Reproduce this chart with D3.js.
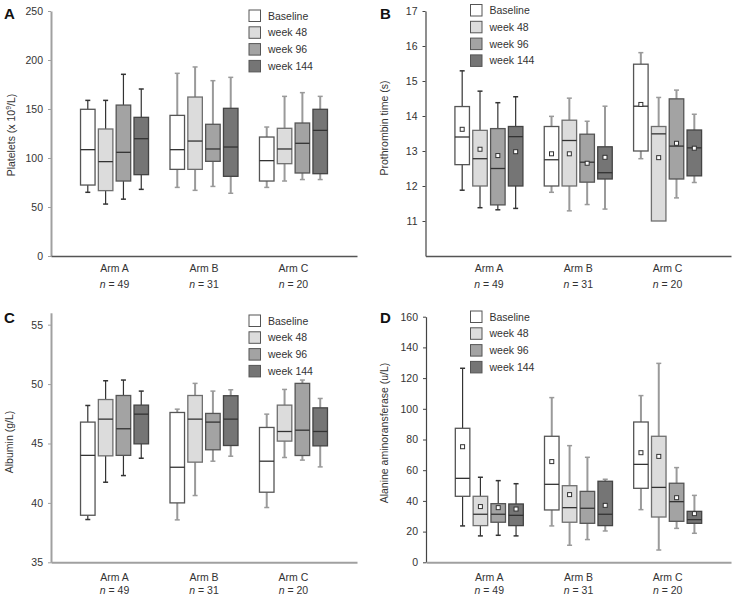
<!DOCTYPE html>
<html><head><meta charset="utf-8">
<script src="https://cdn.jsdelivr.net/npm/d3@7"></script>
<style>
body{margin:0;background:#fff}
svg{display:block}
text{font-family:'Liberation Sans',Arial,sans-serif;fill:#333}
</style>
</head><body>
<svg id="chart" width="738" height="597"></svg>
<script>
// ---------- data ----------
const arms = ["Arm A", "Arm B", "Arm C"];
const armN = [49, 31, 20];
const seriesNames = ["Baseline", "week 48", "week 96", "week 144"];
const seriesFill = ["#ffffff", "#dcdcdc", "#a3a3a3", "#757575"];

// order: Arm A (Baseline, wk48, wk96, wk144), Arm B (...), Arm C (...)
const plateletsMin = [65, 53, 58, 68, 70, 67, 71, 64, 70, 76.5, 78, 78];
const plateletsQ1  = [72.4, 66.7, 76.5, 83, 88.4, 88.4, 96.6, 81.3, 76.5, 94.2, 84.7, 84];
const plateletsMed = [108.5, 96.3, 105.8, 119.7, 108.5, 117.3, 109.2, 111.2, 97.3, 109.2, 115, 128.2];
const plateletsQ3  = [149.7, 129.6, 154, 141.5, 143.5, 162.2, 134.4, 150.7, 121.4, 130.3, 135.7, 149.7];
const plateletsMax = [158.8, 158.8, 185.4, 170.4, 186.4, 192.9, 178.9, 182.3, 131.6, 162.9, 166.7, 162.9];
const plateletsTicks = [0, 50, 100, 150, 200, 250];

const ptMin  = [11.88, 11.38, 11.32, 11.36, 11.82, 11.29, 11.47, 11.34, 12.78, 11.04, 11.66, 12.10];
const ptQ1   = [12.61, 12.0, 11.46, 12.0, 12.0, 12.0, 12.11, 12.20, 13.0, 11.0, 12.20, 12.29];
const ptMed  = [13.40, 12.78, 12.5, 13.41, 12.75, 13.30, 12.68, 12.38, 14.28, 13.49, 13.14, 13.09];
const ptQ3   = [14.27, 13.59, 13.64, 13.70, 13.70, 13.88, 13.48, 13.12, 15.48, 13.70, 14.49, 13.60];
const ptMax  = [15.29, 14.71, 14.38, 14.55, 13.99, 14.51, 13.85, 14.28, 15.81, 14.53, 14.74, 14.05];
const ptMean = [13.62, 13.05, 12.87, 12.98, 12.92, 12.92, 12.65, 12.82, 14.33, 12.81, 13.22, 13.08];
const ptTicks = [11, 12, 13, 14, 15, 16, 17];

const albMin = [38.6, 41.74, 42.3, 43.76, 38.57, 40.62, 43.51, 43.93, 39.61, 43.82, 43.6, 43.03];
const albQ1  = [38.96, 43.96, 44.0, 44.97, 40.0, 43.43, 44.47, 44.83, 40.9, 45.2, 43.99, 44.8];
const albMed = [44.0, 47.05, 46.24, 47.47, 43.0, 47.05, 46.8, 47.05, 43.51, 46.01, 46.12, 46.01];
const albQ3  = [46.8, 48.7, 49.04, 48.23, 47.61, 49.04, 47.53, 49.02, 46.35, 48.23, 50.06, 48.0];
const albMax = [48.2, 50.28, 50.34, 49.41, 47.89, 50.06, 49.41, 49.52, 47.47, 49.55, 50.34, 48.79];
const albTicks = [35, 40, 45, 50, 55];

const altMin  = [23.7, 17.2, 17.6, 17.2, 23.7, 11.1, 14.8, 20.4, 34.3, 8.0, 22.1, 18.9];
const altQ1   = [43.0, 23.9, 26.1, 23.9, 34.1, 26.1, 25.4, 23.9, 48.2, 29.5, 26.7, 25.4];
const altMed  = [54.7, 31.3, 31.3, 30.6, 50.8, 35.6, 35.2, 31.3, 63.8, 48.8, 39.5, 27.8];
const altQ3   = [87.3, 43.0, 38.2, 38.0, 82.1, 49.9, 46.2, 52.8, 91.4, 82.1, 51.5, 33.2];
const altMax  = [126.4, 55.4, 53.2, 51.2, 107.3, 76.0, 68.4, 54.1, 108.6, 129.6, 61.7, 43.6];
const altMean = [75.3, 36.3, 35.6, 34.7, 65.6, 44.1, null, 37.1, 71.4, 69.0, 42.1, 31.7];
const altTicks = [0, 20, 40, 60, 80, 100, 120, 140, 160];

// ---------- layout ----------
const svg = d3.select("#chart");

const panels = [
  {letter: "A", lx: 4, ly: 19, title: ["Platelets (x 10", "9", "/L)"], tx: 15, ty: 135,
   left: 51, right: 357, top: 11, bottom: 256, domain: [0, 250], ticks: plateletsTicks,
   min: plateletsMin, q1: plateletsQ1, med: plateletsMed, q3: plateletsQ3, max: plateletsMax, mean: null,
   yAxisColor: "#a0a0a0", yAxisW: 2, xAxisColor: "#555", xAxisW: 1.3, lab1: 272, lab2: 288,
   legX: 249, legY: 10},
  {letter: "B", lx: 380, ly: 19, title: ["Prothrombin time (s)"], tx: 388, ty: 128,
   left: 425.5, right: 731, top: 11, bottom: 256, domain: [10, 17], ticks: ptTicks,
   min: ptMin, q1: ptQ1, med: ptMed, q3: ptQ3, max: ptMax, mean: ptMean,
   yAxisColor: "#444", yAxisW: 1.2, xAxisColor: "#555", xAxisW: 1.3, lab1: 272, lab2: 288,
   legX: 470.5, legY: 4.5},
  {letter: "C", lx: 4, ly: 323, title: ["Albumin (g/L)"], tx: 13, ty: 442,
   left: 51, right: 357, top: 312.8, bottom: 562.3, domain: [35, 56], ticks: albTicks,
   min: albMin, q1: albQ1, med: albMed, q3: albQ3, max: albMax, mean: null,
   yAxisColor: "#a0a0a0", yAxisW: 2, xAxisColor: "#a0a0a0", xAxisW: 2, lab1: 581, lab2: 594,
   legX: 249, legY: 315},
  {letter: "D", lx: 380, ly: 323, title: ["Alanine aminoransferase (u/L)"], tx: 388, ty: 433,
   left: 426, right: 731, top: 316.7, bottom: 562.3, domain: [0, 160], ticks: altTicks,
   min: altMin, q1: altQ1, med: altMed, q3: altQ3, max: altMax, mean: altMean,
   yAxisColor: "#444", yAxisW: 1.2, xAxisColor: "#a0a0a0", xAxisW: 2, lab1: 581, lab2: 594,
   legX: 470.5, legY: 311}
];

const whiskerColor = ["#333", "#9a9a9a", "#9a9a9a"];
const whiskerWidth = [1.2, 2, 2];
const boxStroke = ["#555", "#6f6f6f", "#555", "#444"];

panels.forEach(p => {
  const g = svg.append("g");

  const y = d3.scaleLinear().domain(p.domain).range([p.bottom, p.top]);
  const x0 = d3.scalePoint().domain(arms).range([p.left, p.right]).padding(0.71);
  const x1 = d3.scaleBand().domain(seriesNames).range([-34, 34]).paddingInner(0.185).paddingOuter(0);

  // panel letter
  g.append("text").attr("x", p.lx).attr("y", p.ly)
    .style("font-weight", "bold").style("font-size", "15px").style("fill", "#111")
    .text(p.letter);

  // y title
  const t = g.append("text")
    .attr("transform", `translate(${p.tx},${p.ty}) rotate(-90)`)
    .attr("text-anchor", "middle").style("font-size", "10.5px");
  t.append("tspan").text(p.title[0]);
  if (p.title.length > 1) {
    t.append("tspan").attr("dy", -4).style("font-size", "7px").text(p.title[1]);
    t.append("tspan").attr("dy", 4).text(p.title[2]);
  }

  // y axis
  const ya = g.append("g").attr("transform", `translate(${p.left},0)`)
    .call(d3.axisLeft(y).tickValues(p.ticks).tickFormat(d3.format("d"))
      .tickSize(3).tickSizeOuter(0).tickPadding(5));
  ya.select(".domain").attr("stroke", p.yAxisColor).attr("stroke-width", p.yAxisW);
  ya.selectAll(".tick line").attr("stroke", p.yAxisColor);
  ya.selectAll(".tick text").style("font-family", "'Liberation Sans',Arial,sans-serif")
    .style("font-size", "10.5px").attr("fill", "#333");

  // x axis
  const xa = g.append("g").attr("transform", `translate(0,${p.bottom})`)
    .call(d3.axisBottom(x0).tickSize(0).tickSizeOuter(0).tickFormat(""));
  xa.select(".domain").attr("stroke", p.xAxisColor).attr("stroke-width", p.xAxisW);

  arms.forEach((a, i) => {
    g.append("text").attr("x", x0(a)).attr("y", p.lab1).attr("text-anchor", "middle")
      .style("font-size", "10.5px").text(a);
    const nt = g.append("text").attr("x", x0(a)).attr("y", p.lab2).attr("text-anchor", "middle")
      .style("font-size", "10.5px");
    nt.append("tspan").style("font-style", "italic").text("n");
    nt.append("tspan").text(" = " + armN[i]);
  });

  // boxes
  arms.forEach((a, i) => {
    seriesNames.forEach((s, j) => {
      const k = i * 4 + j;
      const bx = x0(a) + x1(s);
      const bw = x1.bandwidth();
      const cx = bx + bw / 2;
      const wc = whiskerColor[i], ww = whiskerWidth[i];
      // whiskers
      g.append("line").attr("x1", cx).attr("x2", cx).attr("y1", y(p.max[k])).attr("y2", y(p.q3[k]))
        .attr("stroke", wc).attr("stroke-width", ww);
      g.append("line").attr("x1", cx).attr("x2", cx).attr("y1", y(p.min[k])).attr("y2", y(p.q1[k]))
        .attr("stroke", wc).attr("stroke-width", ww);
      [p.max[k], p.min[k]].forEach(v => {
        g.append("line").attr("x1", cx - 2.5).attr("x2", cx + 2.5).attr("y1", y(v)).attr("y2", y(v))
          .attr("stroke", wc).attr("stroke-width", 1.5);
      });
      // box
      g.append("rect").attr("x", bx).attr("width", bw)
        .attr("y", y(p.q3[k])).attr("height", y(p.q1[k]) - y(p.q3[k]))
        .attr("fill", seriesFill[j]).attr("stroke", boxStroke[j]).attr("stroke-width", 1.3);
      // median
      g.append("line").attr("x1", bx).attr("x2", bx + bw).attr("y1", y(p.med[k])).attr("y2", y(p.med[k]))
        .attr("stroke", "#333").attr("stroke-width", 1.3);
      // mean
      if (p.mean && p.mean[k] != null) {
        g.append("rect").attr("x", cx - 2).attr("y", y(p.mean[k]) - 2).attr("width", 4).attr("height", 4)
          .attr("fill", "#fff").attr("stroke", "#333").attr("stroke-width", 1);
      }
    });
  });

  // legend
  seriesNames.forEach((s, j) => {
    const ly = p.legY + j * 16.8;
    g.append("rect").attr("x", p.legX).attr("y", ly).attr("width", 11.5).attr("height", 11.5)
      .attr("fill", seriesFill[j]).attr("stroke", "#555").attr("stroke-width", 1);
    g.append("text").attr("x", p.legX + 19).attr("y", ly + 9.5).style("font-size", "10.5px").text(s);
  });
});
</script>
</body></html>
